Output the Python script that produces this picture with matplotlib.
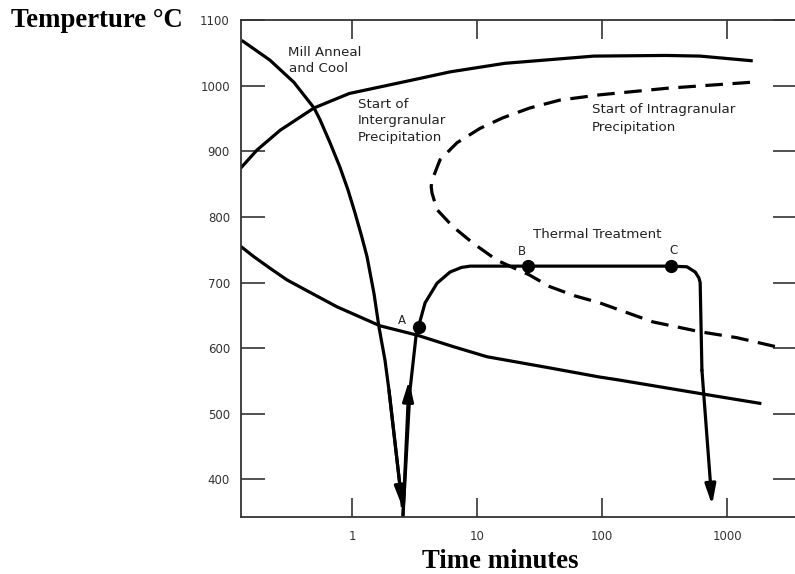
import matplotlib
matplotlib.use("Agg")
import matplotlib.pyplot as plt

# ---- data (time in minutes, temperature in °C) ----
cool_t = [0.131, 0.22, 0.343, 0.497, 0.555, 0.667, 0.80, 0.929, 1.057, 1.2, 1.32,
          1.50, 1.644, 1.835, 1.976, 2.53]
cool_T = [1069, 1039, 1005, 966, 948, 913, 876, 841, 806, 769, 739,
          683, 632, 582, 536, 358]

inter_t = [0.131, 0.174, 0.266, 0.497, 0.95, 3.3, 6.1, 16.7, 86, 325, 610, 1560]
inter_T = [876, 902, 932, 966, 988, 1010, 1021, 1034, 1045, 1046, 1045, 1038]

lower_t = [0.127, 0.165, 0.22, 0.302, 0.413, 0.759, 1.68, 3.3, 6.55, 12.0, 38, 96, 132, 700, 1830]
lower_T = [756, 739, 722, 704, 690, 663, 634, 620, 602, 587, 570, 556, 552, 529, 516]

intra_t = [1528, 331, 96, 46.1, 26.5, 16.1, 10.6, 6.92, 5.06, 4.37, 4.30, 4.37, 4.79,
           6.43, 9.29, 14.45, 20.9, 26, 38, 60, 96, 139, 256, 610, 1200, 2500]
intra_T = [1005, 996, 986, 978, 966, 951, 935, 913, 887, 856, 846, 836, 811,
           785, 760, 734, 720, 712, 694, 680, 669, 658, 640, 625, 616, 602]

heat_t = [2.56, 2.91, 3.25, 3.43, 3.84, 4.79, 6.08, 7.5, 8.8, 25.6, 357, 478, 557, 596, 610, 630, 760]
heat_T = [346, 536, 618, 635, 669, 699, 716, 723, 725, 725, 725, 724, 716, 707, 700, 567, 361]

point_names = ["A", "B", "C"]
point_t = [3.43, 25.6, 357]
point_T = [632, 725, 725]

x_ticks = [1, 10, 100, 1000]
x_tick_labels = ["1", "10", "100", "1000"]
y_ticks = [400, 500, 600, 700, 800, 900, 1000, 1100]

W, H = 795, 574
fig = plt.figure(figsize=(W / 100, H / 100), dpi=100)
ax = fig.add_axes([241 / W, 1 - 517 / H, 556 / W, 497 / H])

ax.set_xscale("log")
ax.set_xlim(0.1294, 3631)
ax.set_ylim(342.8, 1100)

lw = 2.3
k = "black"
ax.plot(cool_t, cool_T, color=k, lw=lw, solid_capstyle="butt")
ax.plot(inter_t, inter_T, color=k, lw=lw)
ax.plot(lower_t, lower_T, color=k, lw=lw)
ax.plot(intra_t, intra_T, color=k, lw=lw, dashes=(5.5, 3.0))
ax.plot(heat_t[:-1], heat_T[:-1], color=k, lw=lw)
ax.plot(point_t, point_T, "o", color=k, ms=8.5)

arrow = dict(arrowstyle="-|>,head_length=1.2,head_width=0.32", color=k, lw=lw,
             mutation_scale=10, shrinkA=0, shrinkB=0)
# arrow at the end of the cooling curve
ax.annotate("", xy=(cool_t[-1], cool_T[-1]), xytext=(cool_t[-2], cool_T[-2]), arrowprops=arrow)
# arrow on the heating branch (pointing up)
ax.annotate("", xy=(2.86, 551), xytext=(heat_t[0], heat_T[0]), arrowprops=arrow)
# arrow at the end of the final cooling
ax.annotate("", xy=(heat_t[-1], heat_T[-1]), xytext=(heat_t[-2], heat_T[-2]), arrowprops=arrow)

# ticks
ax.set_xticks(x_ticks)
ax.set_xticklabels(x_tick_labels)
ax.xaxis.set_minor_locator(matplotlib.ticker.NullLocator())
ax.set_yticks(y_ticks)
ax.tick_params(axis="y", direction="in", length=17, width=1.2, left=True, right=True,
               pad=8, labelsize=8.5, labelcolor="#333333", color="#333333")
ax.tick_params(axis="x", direction="in", length=14, width=1.2, bottom=True, top=True,
               pad=9, labelsize=8.5, labelcolor="#333333", color="#333333")
for s in ax.spines.values():
    s.set_linewidth(1.3)
    s.set_color("#333333")

def fp(x, y):
    return x / W, 1 - y / H

lab = dict(fontsize=9.6, color="#222222", family="DejaVu Sans", va="center", ha="left")
texts = [
    ("Mill Anneal", 288, 52), ("and Cool", 289, 68),
    ("Start of", 358, 104), ("Intergranular", 358, 121), ("Precipitation", 358, 138),
    ("Start of Intragranular", 592, 110), ("Precipitation", 592, 127),
    ("Thermal Treatment", 533, 234),
]
for s, x, y in texts:
    fig.text(*fp(x, y), s, **lab)

point_label_px = [(402, 320), (522, 251), (673, 250)]
for name, (x, y) in zip(point_names, point_label_px):
    fig.text(*fp(x, y), name, fontsize=8.5, color="#222222", ha="center", va="center")

serif = dict(family="Liberation Serif", fontweight="bold", fontsize=19.3, color="black",
             va="baseline", ha="left")
fig.text(*fp(11, 27), "Temperture °C", **serif)
fig.text(*fp(422, 568), "Time minutes", **serif)

fig.savefig("out.png", dpi=100)
